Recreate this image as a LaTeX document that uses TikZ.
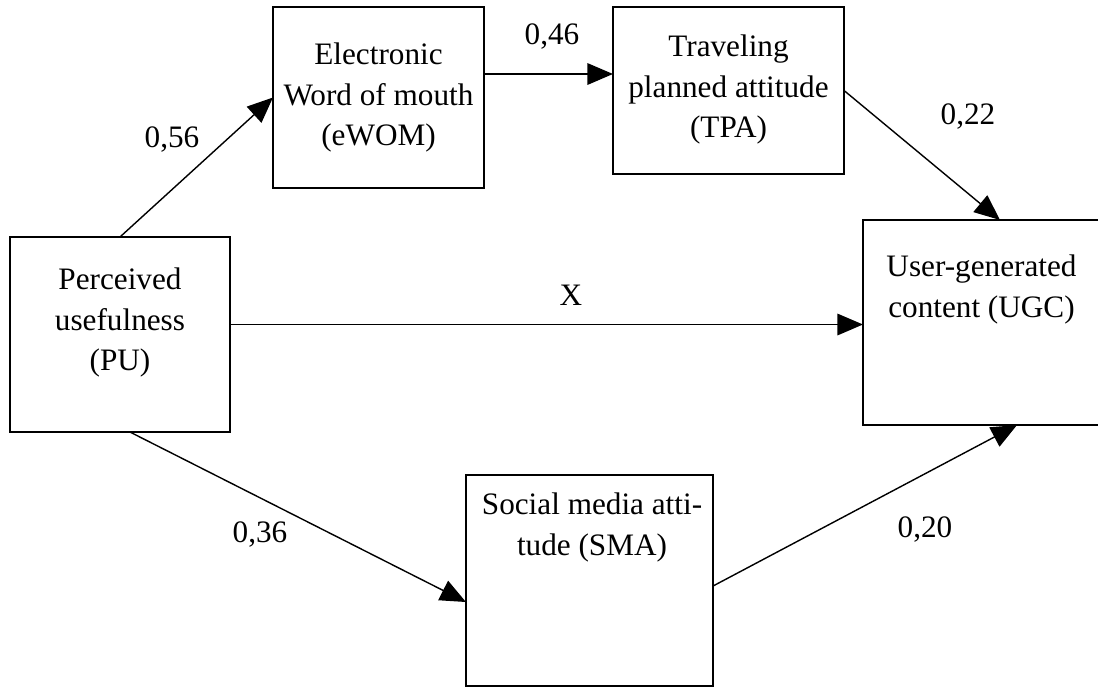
\documentclass[tikz,border=0pt]{standalone}
\usepackage{fontspec}
\setmainfont{Liberation Serif}
\usetikzlibrary{arrows.meta,calc}

\newcommand{\diagfont}{\fontsize{22.2pt}{28.6pt}\selectfont}

\tikzset{
  box/.style={draw, line width=1.2pt, inner sep=0pt, outer sep=0pt},
  boxtext/.style={anchor=north, align=center, inner sep=0pt, font=\diagfont},
  coef/.style={inner sep=0pt, font=\diagfont},
  path/.style={line width=1pt, -{Triangle[length=0.64cm,width=0.54cm]}}
}

\begin{document}
\begin{tikzpicture}[x=0.025cm, y=-0.025cm]

 \useasboundingbox (0,0) rectangle (1098,687) ;

  %%%%%%%%%% Boxes %%%%%%%%%%
 \node[box, minimum width=5.5cm,   minimum height=4.875cm] (pu)   at (120,334.5) {};
 \node[box, minimum width=5.275cm, minimum height=4.525cm] (ewom) at (378.5,97.5) {};
 \node[box, minimum width=5.775cm, minimum height=4.175cm] (tpa)  at (728.5,90.5) {};
 \node[box, minimum width=5.925cm, minimum height=5.125cm] (ugc)  at (981.5,322.5) {};
 \node[box, minimum width=6.175cm, minimum height=5.275cm] (sma)  at (589.5,580.5) {};

  %%%%%%%%%% Box texts %%%%%%%%%%
 \node[boxtext] (putxt)   at ($(pu.north)+(0,31)$)   {Perceived\\usefulness\\(PU)};
 \node[boxtext] (ewomtxt) at ($(ewom.north)+(0,36)$) {Electronic\\Word of mouth\\(eWOM)};
 \node[boxtext] (tpatxt)  at ($(tpa.north)+(0,28)$)  {Traveling\\planned attitude\\(TPA)};
 \node[boxtext] (ugctxt)  at ($(ugc.north)+(0,35)$)  {User-generated\\content (UGC)};
 \node[boxtext] (smatxt)  at ($(sma.north)+(2.5,18)$) {Social media atti-\\tude (SMA)};

  %%%%%%%%%% Paths %%%%%%%%%%
 \draw [path] (pu.north) -- (ewom.west) ;
 \draw [path] ($(ewom.east)+(0,-23.5)$) -- ($(tpa.west)+(0,-16.5)$) ;
 \draw [path] (tpa.east) -- ($(ugc.north)+(18.5,0)$) ;
 \draw [path] ($(pu.east)+(0,-10)$) -- ($(ugc.west)+(0,2)$) ;
 \draw [path] ($(pu.south)+(10,0)$) -- ($(sma.west)+(0,21.5)$) ;
 \draw [path] ($(sma.east)+(0,5.5)$) -- ($(ugc.south)+(35.5,0)$) ;

  %%%%%%%%%% Coefficients %%%%%%%%%%
 \node[coef] (c56) at (172,140) {0,56};
 \node[coef] (c46) at (552,37)  {0,46};
 \node[coef] (c22) at (968,117) {0,22};
 \node[coef] (cx)  at (571,295) {X};
 \node[coef] (c36) at (260,535) {0,36};
 \node[coef] (c20) at (925,530) {0,20};

\end{tikzpicture}
\end{document}
